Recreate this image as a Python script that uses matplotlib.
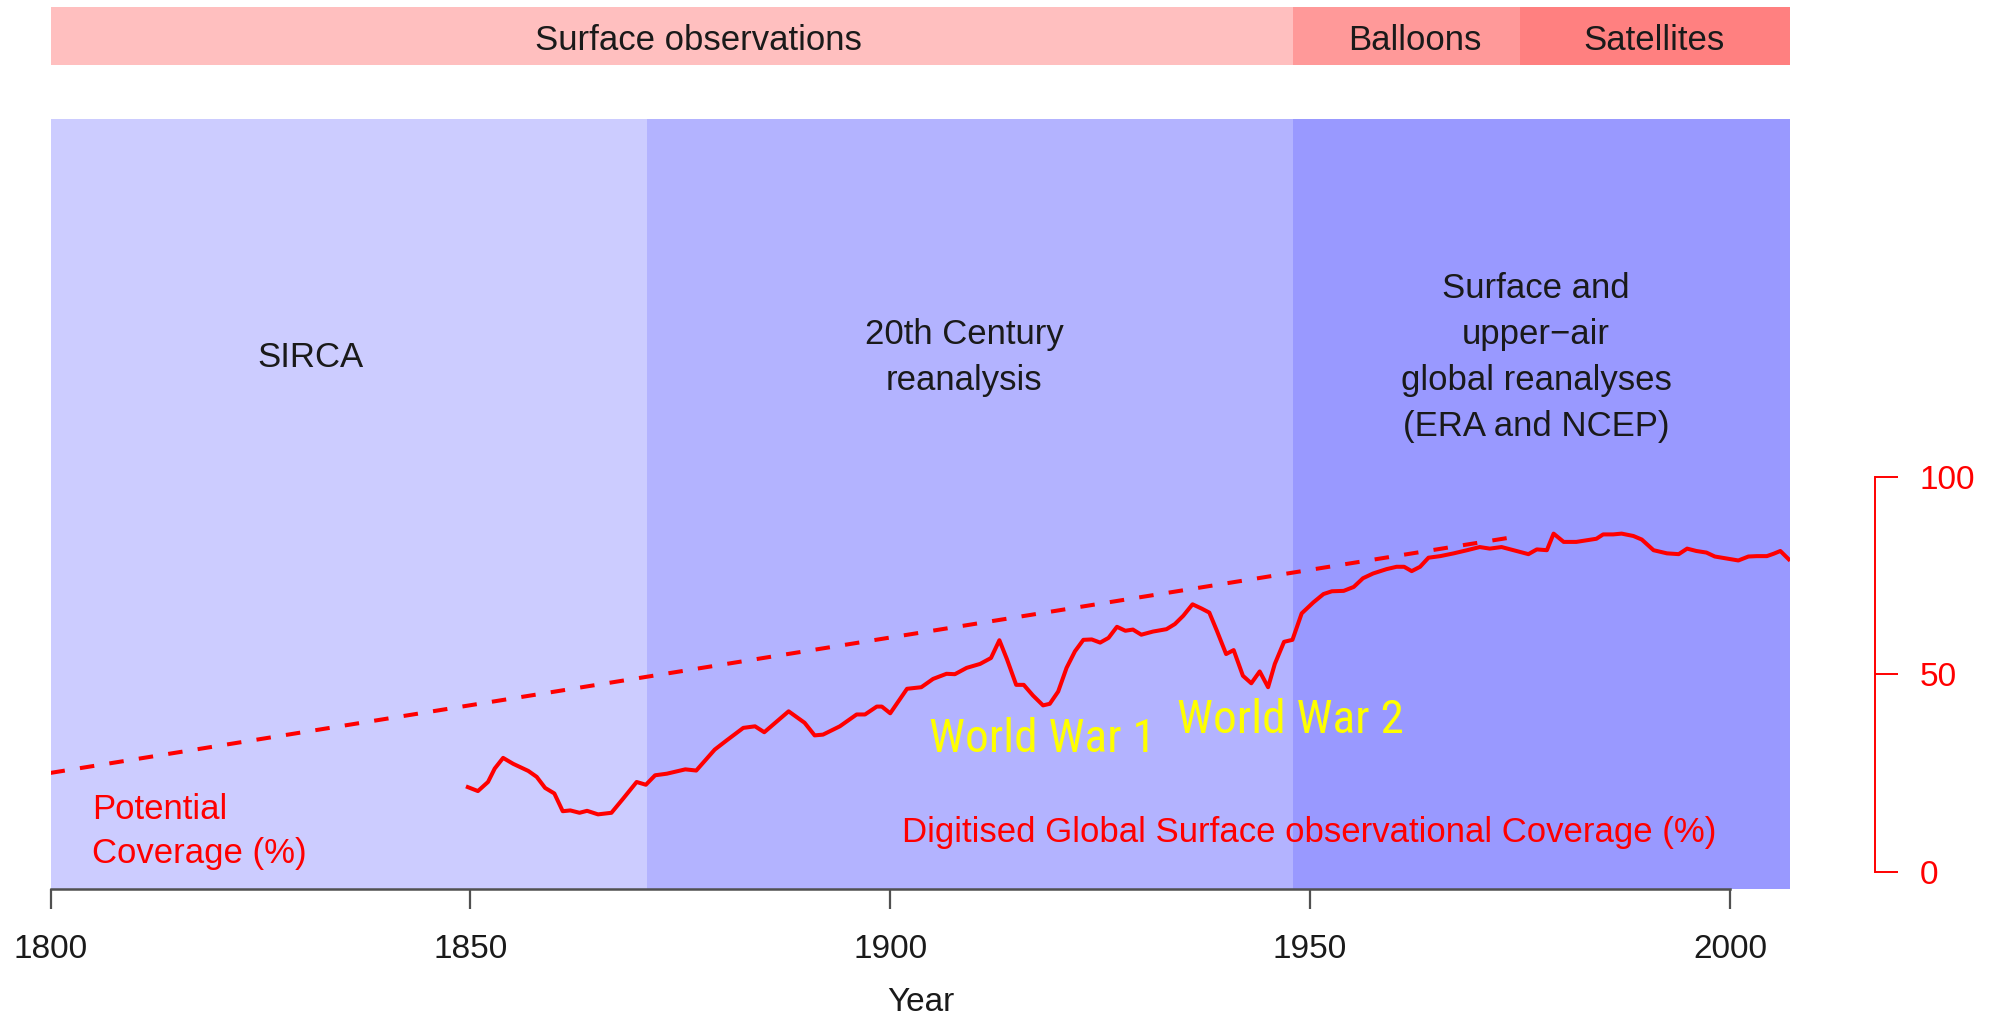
import matplotlib
matplotlib.use("Agg")
import matplotlib.pyplot as plt
from matplotlib import font_manager as fm

plt.rcParams['font.family'] = ['Liberation Sans', 'DejaVu Sans']

# ---------------- data ----------------
obs_eras = ["Surface observations", "Balloons", "Satellites"]
obs_start = [1800, 1948, 1975]
obs_end = [1948, 1975, 2007.2]

reanalyses = ["SIRCA", "20th Century\nreanalysis",
              "Surface and\nupper\u2212air\nglobal reanalyses\n(ERA and NCEP)"]
rean_start = [1800, 1871, 1948]
rean_end = [1871, 1948, 2007.2]

potential_years = [1800, 1975]
potential_pct = [25, 85]

cov_years = [1849.7, 1850.9, 1852.1, 1852.9, 1853.9, 1855.1, 1856.9, 1857.9, 1858.9, 1860.0,
             1861.0, 1861.9, 1863.0, 1863.9, 1865.2, 1866.8, 1868.2, 1869.8, 1870.9, 1872.0,
             1873.4, 1875.6, 1876.9, 1879.1, 1880.5, 1882.5, 1883.9, 1885.0, 1887.9, 1889.8,
             1891.0, 1892.0, 1894.0, 1896.0, 1897.0, 1898.4, 1899.0, 1900.0, 1902.0, 1903.7,
             1905.1, 1906.7, 1907.7, 1909.1, 1910.7, 1912.0, 1913.0, 1913.9, 1915.0, 1915.9,
             1917.0, 1918.2, 1919.0, 1920.0, 1921.0, 1922.0, 1923.0, 1924.0, 1925.0, 1926.0,
             1927.0, 1928.0, 1928.9, 1929.9, 1931.3, 1932.9, 1933.9, 1934.9, 1936.0, 1937.1,
             1938.0, 1938.9, 1940.0, 1940.9, 1942.0, 1943.0, 1944.0, 1945.0, 1945.8, 1946.9,
             1947.9, 1949.0, 1950.4, 1951.6, 1952.6, 1954.0, 1955.2, 1956.3, 1957.5, 1959.1,
             1960.3, 1961.2, 1962.1, 1963.1, 1964.1, 1965.5, 1967.1, 1968.7, 1970.2, 1971.4,
             1972.8, 1974.2, 1976.0, 1977.0, 1978.2, 1979.0, 1980.2, 1981.7, 1982.9, 1984.1,
             1984.9, 1986.1, 1987.1, 1988.5, 1989.5, 1990.9, 1992.5, 1993.9, 1994.9, 1996.0,
             1997.2, 1998.2, 1999.6, 2001.0, 2002.2, 2003.2, 2004.4, 2005.2, 2006.0, 2007.0]
cov_pct = [21.4, 20.4, 22.7, 26.1, 28.8, 27.3, 25.5, 24.0, 21.2, 19.8,
           15.3, 15.5, 14.9, 15.4, 14.5, 14.9, 18.5, 22.7, 22.0, 24.4,
           24.8, 25.9, 25.6, 30.9, 33.2, 36.4, 36.8, 35.3, 40.6, 37.7,
           34.5, 34.7, 36.8, 39.8, 39.8, 41.8, 41.8, 40.1, 46.3, 46.7,
           48.8, 50.1, 50.0, 51.6, 52.6, 54.1, 58.6, 53.8, 47.3, 47.3,
           44.6, 42.1, 42.5, 45.6, 51.6, 55.8, 58.7, 58.8, 58.0, 59.2,
           62.0, 61.0, 61.3, 60.0, 60.8, 61.4, 62.7, 64.8, 67.7, 66.6,
           65.6, 61.0, 55.1, 56.1, 49.6, 47.7, 50.7, 46.7, 52.6, 58.2,
           58.7, 65.4, 68.2, 70.3, 71.0, 71.1, 72.1, 74.3, 75.5, 76.6,
           77.2, 77.2, 76.1, 77.2, 79.5, 79.9, 80.6, 81.4, 82.2, 81.8,
           82.2, 81.4, 80.4, 81.6, 81.4, 85.6, 83.5, 83.5, 83.9, 84.3,
           85.4, 85.4, 85.6, 85.0, 84.1, 81.4, 80.6, 80.4, 81.8, 81.2,
           80.8, 79.8, 79.3, 78.8, 79.8, 79.9, 79.9, 80.5, 81.2, 79.1]

x_ticks = [1800, 1850, 1900, 1950, 2000]
pct_ticks = [0, 50, 100]

# ---------------- styles / layout ----------------
obs_colors = ['#FFBFBF', '#FF9999', '#FF8080']
rean_colors = ['#CCCCFF', '#B3B3FF', '#9999FF']
obs_label_x = [1877.2, 1962.5, 1991.0]
rean_label_x = [1831.0, 1908.8, 1976.9]
LABEL_FS = 25
TICK_FS = 24
TXT = '#1a1a1a'
RED = '#FF0000'


def condensed_font():
    """Find an installed narrow/condensed sans face (regular weight)."""
    cands = []
    for f in fm.fontManager.ttflist:
        name = f.name
        fname = f.fname.lower()
        narrowish = ('narrow' in name.lower() or 'condensed' in name.lower()
                     or 'narrow' in fname or 'condensed' in fname
                     or str(f.stretch) in ('condensed', 'semi-condensed', 'extra-condensed'))
        if not narrowish or f.style != 'normal':
            continue
        if 'bold' in fname or 'light' in fname or 'thin' in fname or 'black' in fname \
                or 'semibold' in fname or 'medium' in fname or 'extra' in fname:
            continue
        if f.weight not in (400, 'normal', 'regular', 'book'):
            continue
        rank = 0 if 'liberation' in fname else (1 if 'roboto' in fname else
                                                (2 if 'dejavu' in fname else 3))
        cands.append((rank, f.fname))
    if cands:
        cands.sort()
        return fm.FontProperties(fname=cands[0][1]), True
    return fm.FontProperties(family='Liberation Sans'), False


ww_prop, ww_is_narrow = condensed_font()
WW_FS = 34 if ww_is_narrow else 28

W, H = 1994, 1017
fig = plt.figure(figsize=(W / 100, H / 100), dpi=100)
x0, x1 = 50.5, 1790.4
XLIM = (1800, 2007.2)

ax = fig.add_axes([x0 / W, 1 - 889 / H, (x1 - x0) / W, (889 - 119) / H])
ax.set_xlim(*XLIM)
ax.set_ylim(-4.4, 190.6)

top = fig.add_axes([x0 / W, 1 - 65 / H, (x1 - x0) / W, 58 / H])
top.set_xlim(*XLIM)
top.set_ylim(0, 1)
top.axis('off')

for name, s, e, c, lx in zip(obs_eras, obs_start, obs_end, obs_colors, obs_label_x):
    top.axvspan(s, e, color=c, lw=0)
    top.text(lx, 0.43, name, ha='center', va='center', fontsize=LABEL_FS, color=TXT)

for name, s, e, c, lx in zip(reanalyses, rean_start, rean_end, rean_colors, rean_label_x):
    ax.axvspan(s, e, color=c, lw=0)
    ax.text(lx, 130.3, name, ha='center', va='center', fontsize=LABEL_FS,
            color=TXT, linespacing=1.5, multialignment='center')

ax.plot(potential_years, potential_pct, color=RED, lw=2.9, ls=(0, (3.6, 3.8)),
        dash_capstyle='butt')
ax.plot(cov_years, cov_pct, color=RED, lw=2.9, solid_joinstyle='round')

ax.text(1918.1, 30.4, 'World War 1', ha='center', va='baseline', fontsize=WW_FS,
        color='#FFFF00', fontproperties=ww_prop)
ax.text(1947.7, 35.0, 'World War 2', ha='center', va='baseline', fontsize=WW_FS,
        color='#FFFF00', fontproperties=ww_prop)
for t in ax.texts[-2:]:
    t.set_fontsize(WW_FS)

ax.text(1805.0, 2.1, 'Potential\nCoverage (%)', ha='left', va='baseline',
        fontsize=LABEL_FS, color=RED, linespacing=1.45, multialignment='left')
ax.text(1949.9, 7.6, 'Digitised Global Surface observational Coverage (%)',
        ha='center', va='baseline', fontsize=LABEL_FS, color=RED)

# bottom axis
for sp in ['top', 'right', 'left']:
    ax.spines[sp].set_visible(False)
ax.spines['bottom'].set_bounds(x_ticks[0], x_ticks[-1])
ax.spines['bottom'].set_color('#505050')
ax.spines['bottom'].set_linewidth(1.8)
ax.set_xticks(x_ticks)
ax.set_yticks([])
ax.tick_params(axis='x', length=14.4, width=1.6, color='#505050', pad=18,
               labelsize=TICK_FS, labelcolor=TXT)
ax.set_xlabel('Year', fontsize=TICK_FS, color=TXT)
ax.xaxis.set_label_coords(0.5, -0.127)

# right percentage axis
ax2 = ax.twinx()
ax2.set_ylim(ax.get_ylim())
for sp in ['top', 'bottom', 'left']:
    ax2.spines[sp].set_visible(False)
ax2.spines['right'].set_position(('outward', 61))
ax2.spines['right'].set_bounds(pct_ticks[0], pct_ticks[-1])
ax2.spines['right'].set_color(RED)
ax2.spines['right'].set_linewidth(1.4)
ax2.set_yticks(pct_ticks)
ax2.tick_params(axis='y', length=16.8, width=1.4, color=RED, pad=15,
                labelsize=TICK_FS, labelcolor=RED)

fig.savefig('out.png', dpi=100)
